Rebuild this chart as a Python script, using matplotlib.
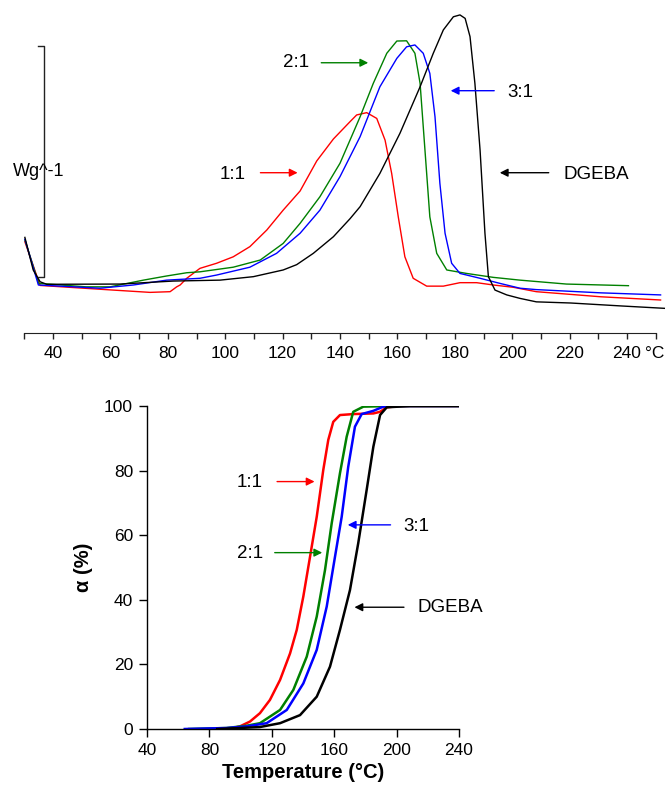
import matplotlib.pyplot as plt
import numpy as np

plt.rcParams['font.family'] = ['Liberation Sans', 'DejaVu Sans']

# ---- top panel: DSC heat flow (W/g, arbitrary offset) ----
t_dgeba = [30.2, 33.1, 35.5, 37.8, 63.3, 81.9, 98.2, 109.8, 120.2, 124.9, 130.7, 137.7, 143.5,
           147.0, 153.9, 160.9, 167.9, 172.5, 176.0, 179.5, 181.8, 183.6, 185.3, 187.0, 188.8,
           190.5, 191.7, 194.0, 198.1, 202.7, 208.4, 220.4, 238.3, 253.0]
hf_dgeba = [0.414, 0.273, 0.222, 0.211, 0.212, 0.225, 0.229, 0.244, 0.273, 0.296, 0.345, 0.417, 0.495,
            0.547, 0.691, 0.865, 1.066, 1.211, 1.312, 1.369, 1.377, 1.362, 1.283, 1.081, 0.792,
            0.432, 0.244, 0.186, 0.165, 0.150, 0.135, 0.130, 0.117, 0.107]

t_11 = [30.2, 35.5, 60.9, 73.8, 80.8, 83.1, 84.3, 86.6, 91.2, 97.0, 102.8, 108.6, 114.5, 120.2,
        126.1, 131.9, 137.7, 143.5, 145.8, 149.3, 152.8, 155.7, 158.0, 160.3, 162.6, 165.5,
        170.2, 176.0, 181.8, 187.6, 193.4, 200.4, 208.4, 230.8, 251.7]
hf_11 = [0.395, 0.206, 0.186, 0.176, 0.179, 0.200, 0.208, 0.237, 0.280, 0.302, 0.330, 0.374, 0.446, 0.532,
         0.615, 0.745, 0.840, 0.915, 0.944, 0.954, 0.929, 0.835, 0.691, 0.503, 0.330, 0.237,
         0.203, 0.203, 0.218, 0.218, 0.208, 0.198, 0.179, 0.157, 0.143]

t_21 = [30.2, 35.0, 51.5, 59.9, 71.5, 79.6, 86.6, 91.2, 102.8, 112.2, 120.2, 126.1, 133.0, 140.0,
        147.0, 151.6, 156.3, 159.8, 163.2, 166.1, 167.9, 169.6, 171.3, 173.7, 177.2, 184.1,
        193.4, 202.7, 218.9, 240.5]
hf_21 = [0.403, 0.215, 0.200, 0.200, 0.229, 0.247, 0.261, 0.265, 0.285, 0.316, 0.388, 0.475, 0.590, 0.735,
         0.936, 1.081, 1.211, 1.264, 1.265, 1.211, 1.081, 0.792, 0.503, 0.345, 0.273, 0.258,
         0.241, 0.229, 0.212, 0.205]

t_31 = [30.2, 34.9, 56.4, 68.0, 79.6, 91.2, 97.0, 108.6, 117.9, 126.1, 133.0, 140.0, 147.0, 153.9,
        159.8, 163.2, 166.1, 169.0, 171.3, 173.1, 174.8, 176.6, 178.9, 181.8, 188.8, 195.7,
        202.7, 208.4, 230.8, 251.7]
hf_31 = [0.406, 0.208, 0.194, 0.208, 0.229, 0.237, 0.251, 0.285, 0.345, 0.432, 0.532, 0.677, 0.850, 1.066,
         1.189, 1.239, 1.247, 1.211, 1.124, 0.936, 0.648, 0.432, 0.302, 0.258, 0.237, 0.215,
         0.194, 0.188, 0.174, 0.165]

# ---- bottom panel: conversion alpha (%) ----
c_t_11 = [92, 99.5, 106.0, 112.4, 118.8, 125.3, 131.7, 136.0, 140.2, 144.5, 148.8, 153.0, 156.2,
          159.4, 163.7, 172.2, 185.1, 189.4, 193.7, 202.2, 240]
c_a_11 = [0, 0.8, 2.3, 4.9, 9.0, 15.2, 23.4, 30.7, 41.0, 53.3, 65.7, 80.2, 89.5,
          95.1, 97.2, 97.5, 97.7, 98.2, 99.6, 100, 100]

c_t_21 = [67, 90.9, 103.7, 112.4, 125.3, 133.8, 142.4, 148.8, 154.1, 158.4, 163.7, 168.0, 172.2,
          178.7, 197.9, 240]
c_a_21 = [0, 0.3, 1.0, 1.8, 5.9, 12.1, 22.4, 34.8, 49.2, 63.7, 79.2, 90.5, 98.2,
          99.8, 100, 100]

c_t_31 = [64.2, 90.9, 103.7, 116.7, 129.6, 140.2, 148.8, 155.2, 160.5, 164.8, 169.0, 173.3,
          177.6, 185.1, 191.5, 200, 240]
c_a_31 = [0, 0.3, 0.8, 1.8, 5.9, 14.1, 24.5, 37.9, 53.3, 65.7, 81.2, 93.6,
          97.5, 98.5, 99.8, 100, 100]

c_t_dgeba = [85, 112.3, 125.3, 138.1, 148.8, 157.3, 163.7, 170.1, 175.4, 180.8, 185.1, 189.4,
             193.7, 208.6, 240]
c_a_dgeba = [0, 0.6, 1.8, 4.3, 10.0, 19.3, 30.7, 43.0, 57.5, 74.0, 87.4, 97.2,
             99.6, 100, 100]

x_ticks_top = np.arange(30, 251, 10)
x_ticks_bot = [40, 80, 120, 160, 200, 240]
y_ticks_bot = [0, 20, 40, 60, 80, 100]

fig = plt.figure(figsize=(6.7, 7.93), dpi=100)

# top axes covers the whole upper part of the figure
ax1 = fig.add_axes([0, 1 - 370 / 793, 1, 370 / 793])
ax1.set_xlim(21.53, 254.98)
ax1.set_ylim(-0.160, 1.4416)
ax1.plot(t_11, hf_11, color='#ff0000', lw=1.0)
ax1.plot(t_21, hf_21, color='#008000', lw=1.0)
ax1.plot(t_31, hf_31, color='#0000ff', lw=1.0)
ax1.plot(t_dgeba, hf_dgeba, color='black', lw=1.0)

for s in ['left', 'right', 'top']:
    ax1.spines[s].set_visible(False)
ax1.spines['bottom'].set_position(('data', 0))
ax1.spines['bottom'].set_bounds(30, 250)
ax1.spines['bottom'].set_color('#222222')
ax1.set_yticks([])
ax1.set_xticks(x_ticks_top)
ax1.set_xticklabels([str(t) if t % 20 == 0 and 40 <= t <= 240 else '' for t in x_ticks_top])
ax1.tick_params(axis='x', direction='out', length=4, width=1, pad=5, labelsize=12.5,
                color='#222222')
ax1.text(249.8, -0.09, '°C', fontsize=12.5, ha='center', va='center')

# scale bar bracket
ax1.plot([34.8, 36.9, 36.9, 34.8], [1.242, 1.242, 0.242, 0.242], color='#222222', lw=1.0)
ax1.text(35.1, 0.701, 'Wg^-1', fontsize=13, ha='center', va='center')

# labels with arrows
ax1.annotate('', xy=(150.8, 1.170), xytext=(132.5, 1.170),
             arrowprops=dict(arrowstyle='-|>', color='#008000', lw=1, mutation_scale=12))
ax1.text(124.6, 1.169, '2:1', fontsize=13.5, ha='center', va='center')
ax1.annotate('', xy=(177.6, 1.049), xytext=(194.7, 1.049),
             arrowprops=dict(arrowstyle='-|>', color='#0000ff', lw=1, mutation_scale=12))
ax1.text(202.7, 1.043, '3:1', fontsize=13.5, ha='center', va='center')
ax1.annotate('', xy=(126.2, 0.694), xytext=(111.3, 0.694),
             arrowprops=dict(arrowstyle='-|>', color='#ff0000', lw=1, mutation_scale=12))
ax1.text(102.7, 0.688, '1:1', fontsize=13.5, ha='center', va='center')
ax1.annotate('', xy=(194.7, 0.694), xytext=(213.7, 0.694),
             arrowprops=dict(arrowstyle='-|>', color='black', lw=1, mutation_scale=12))
ax1.text(229.4, 0.688, 'DGEBA', fontsize=13.5, ha='center', va='center')

# bottom axes
ax2 = fig.add_axes([147 / 670, 1 - 729 / 793, 312 / 670, 323 / 793])
ax2.plot(c_t_11, c_a_11, color='#ff0000', lw=1.8)
ax2.plot(c_t_21, c_a_21, color='#008000', lw=1.8)
ax2.plot(c_t_31, c_a_31, color='#0000ff', lw=1.8)
ax2.plot(c_t_dgeba, c_a_dgeba, color='black', lw=1.8)
ax2.set_xlim(40, 240)
ax2.set_ylim(0, 100)
ax2.set_xticks(x_ticks_bot)
ax2.set_yticks(y_ticks_bot)
for s in ['right', 'top']:
    ax2.spines[s].set_visible(False)
for s in ['left', 'bottom']:
    ax2.spines[s].set_linewidth(1.0)
ax2.tick_params(direction='out', length=6, width=1, labelsize=12.5, pad=4)
ax2.set_xlabel('Temperature (°C)', fontsize=14.5, fontweight='bold', labelpad=4)
ax2.set_ylabel('α (%)', fontsize=14.5, fontweight='bold', labelpad=8)

ax2.annotate('', xy=(149.2, 76.6), xytext=(121.6, 76.6),
             arrowprops=dict(arrowstyle='-|>', color='#ff0000', lw=1, mutation_scale=12))
ax2.text(106, 76.2, '1:1', fontsize=13.5, ha='center', va='center')
ax2.annotate('', xy=(154.1, 54.6), xytext=(120.1, 54.6),
             arrowprops=dict(arrowstyle='-|>', color='#008000', lw=1, mutation_scale=12))
ax2.text(106, 54.2, '2:1', fontsize=13.5, ha='center', va='center')
ax2.annotate('', xy=(166.9, 63.2), xytext=(197.9, 63.2),
             arrowprops=dict(arrowstyle='-|>', color='#0000ff', lw=1, mutation_scale=12))
ax2.text(212.9, 62.8, '3:1', fontsize=13.5, ha='center', va='center')
ax2.annotate('', xy=(171.2, 37.7), xytext=(206.5, 37.7),
             arrowprops=dict(arrowstyle='-|>', color='black', lw=1, mutation_scale=12))
ax2.text(213.7, 37.5, 'DGEBA', fontsize=13.5, ha='left', va='center', clip_on=False)

fig.savefig('out.png', dpi=100)
